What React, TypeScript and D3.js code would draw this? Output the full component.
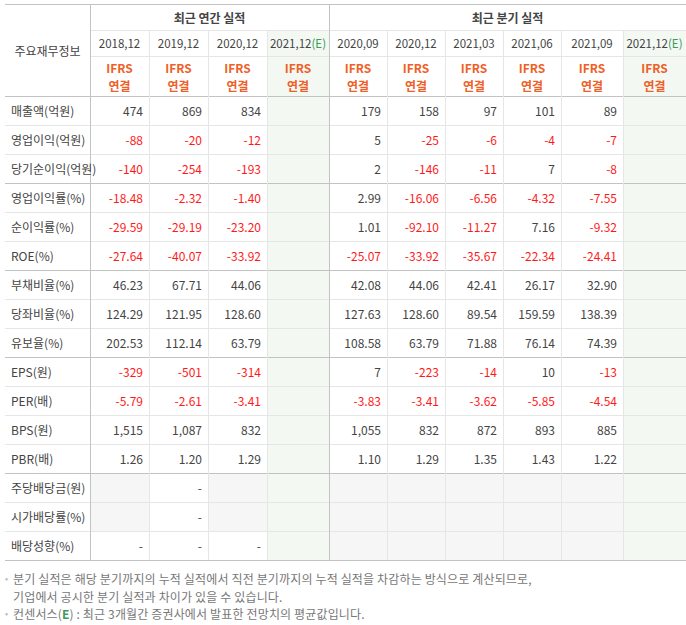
import * as d3 from "d3";

const ANNUAL_PERIODS = ["2018.12", "2019.12", "2020.12", "2021.12"];
const QUARTER_PERIODS = ["2020.09", "2020.12", "2021.03", "2021.06", "2021.09", "2021.12"];
const ROW_LABELS = [
  "매출액(억원)", "영업이익(억원)", "당기순이익(억원)",
  "영업이익률(%)", "순이익률(%)", "ROE(%)",
  "부채비율(%)", "당좌비율(%)", "유보율(%)",
  "EPS(원)", "PER(배)", "BPS(원)", "PBR(배)",
  "주당배당금(원)", "시가배당률(%)", "배당성향(%)",
];
// null = empty (gray for dividend rows)
const ANNUAL_VALUES: (string | null)[][] = [
  ["474", "869", "834"],
  ["-88", "-20", "-12"],
  ["-140", "-254", "-193"],
  ["-18.48", "-2.32", "-1.40"],
  ["-29.59", "-29.19", "-23.20"],
  ["-27.64", "-40.07", "-33.92"],
  ["46.23", "67.71", "44.06"],
  ["124.29", "121.95", "128.60"],
  ["202.53", "112.14", "63.79"],
  ["-329", "-501", "-314"],
  ["-5.79", "-2.61", "-3.41"],
  ["1,515", "1,087", "832"],
  ["1.26", "1.20", "1.29"],
  [null, "-", null],
  [null, "-", null],
  ["-", "-", "-"],
];
const QUARTER_VALUES: (string | null)[][] = [
  ["179", "158", "97", "101", "89"],
  ["5", "-25", "-6", "-4", "-7"],
  ["2", "-146", "-11", "7", "-8"],
  ["2.99", "-16.06", "-6.56", "-4.32", "-7.55"],
  ["1.01", "-92.10", "-11.27", "7.16", "-9.32"],
  ["-25.07", "-33.92", "-35.67", "-22.34", "-24.41"],
  ["42.08", "44.06", "42.41", "26.17", "32.90"],
  ["127.63", "128.60", "89.54", "159.59", "138.39"],
  ["108.58", "63.79", "71.88", "76.14", "74.39"],
  ["7", "-223", "-14", "10", "-13"],
  ["-3.83", "-3.41", "-3.62", "-5.85", "-4.54"],
  ["1,055", "832", "872", "893", "885"],
  ["1.10", "1.29", "1.35", "1.43", "1.22"],
  [null, null, null, null, null],
  [null, null, null, null, null],
  [null, null, null, null, null],
];
const GROUP_BREAKS = [3, 6, 9, 13];
const NOTES = [
  "분기 실적은 해당 분기까지의 누적 실적에서 직전 분기까지의 누적 실적을 차감하는 방식으로 계산되므로,",
  "기업에서 공시한 분기 실적과 차이가 있을 수 있습니다.",
];

const FONT = "'Noto Sans CJK KR', 'Noto Sans', sans-serif";
const LEFT = 5;
const TOP = 4;
const LABEL_W = 85;
const COL_W = [59, 59, 59, 62, 58, 58, 58, 58, 62, 63];
const H1 = 26, H2 = 26, H3 = 40, ROW_H = 29;
const GRID = "#e6e6e6";
const DARK = "#c3c3c3";
const TEXT = "#444";
const RED = "#ff1a1a";
const ORANGE = "#ef5f28";
const GREEN_BG = "#f3f8f3";
const GRAY_BG = "#f6f6f6";

export default function App() {
  const edges = [LEFT + LABEL_W, ...d3.cumsum(COL_W).map((c) => LEFT + LABEL_W + c)];
  const colX = (i: number) => edges[i];
  const colMid = (i: number) => (edges[i] + edges[i + 1]) / 2;
  const right = edges[edges.length - 1];
  const bodyTop = TOP + H1 + H2 + H3;
  const rowY = d3
    .scaleLinear()
    .domain([0, ROW_LABELS.length])
    .range([bodyTop, bodyTop + ROW_LABELS.length * ROW_H]);
  const bodyBottom = rowY(ROW_LABELS.length);
  const periods = [...ANNUAL_PERIODS, ...QUARTER_PERIODS];
  const eCols = [3, 9];

  const cells = ROW_LABELS.map((_, r) => {
    const a = [...ANNUAL_VALUES[r], ""];
    const q = [...QUARTER_VALUES[r], ""];
    return [...a, ...q];
  });

  return (
    <svg width={686} height={625} style={{ position: "absolute", left: 0, top: 0, fontFamily: FONT }}>
      <rect width={686} height={625} fill="#fff" />
      {/* cell backgrounds */}
      {cells.map((row, r) =>
        row.map((v, c) => {
          let fill: string | null = null;
          if (eCols.includes(c)) fill = GREEN_BG;
          else if (v === null) fill = GRAY_BG;
          if (!fill) return null;
          return (
            <rect key={`bg${r}-${c}`} x={colX(c)} y={rowY(r)} width={COL_W[c]} height={ROW_H} fill={fill} />
          );
        })
      )}
      {eCols.map((c) => (
        <rect key={`eh${c}`} x={colX(c)} y={TOP + H1} width={COL_W[c]} height={H2 + H3} fill={GREEN_BG} />
      ))}

      {/* horizontal lines */}
      <line x1={LEFT} x2={right} y1={TOP + 0.5} y2={TOP + 0.5} stroke={DARK} />
      <line x1={LEFT + LABEL_W} x2={right} y1={TOP + H1 + 0.5} y2={TOP + H1 + 0.5} stroke={GRID} />
      <line x1={LEFT + LABEL_W} x2={right} y1={TOP + H1 + H2 + 0.5} y2={TOP + H1 + H2 + 0.5} stroke={GRID} />
      <line x1={LEFT} x2={right} y1={bodyTop + 0.5} y2={bodyTop + 0.5} stroke={DARK} />
      {d3.range(1, ROW_LABELS.length + 1).map((i) => (
        <line
          key={`h${i}`}
          x1={LEFT}
          x2={right}
          y1={rowY(i) + 0.5}
          y2={rowY(i) + 0.5}
          stroke={GROUP_BREAKS.includes(i) || i === ROW_LABELS.length ? DARK : GRID}
        />
      ))}

      {/* vertical lines */}
      {edges.slice(0, -1).map((x, i) => {
        const major = i === 0 || i === 4;
        return (
          <line
            key={`v${i}`}
            x1={x + 0.5}
            x2={x + 0.5}
            y1={major ? TOP : TOP + H1}
            y2={bodyBottom}
            stroke={major ? DARK : GRID}
          />
        );
      })}

      {/* header texts */}
      <text x={LEFT + LABEL_W / 2} y={(TOP + bodyTop) / 2} textAnchor="middle" dominantBaseline="central" fontSize={12} fill={TEXT}>
        주요재무정보
      </text>
      <text x={(colX(0) + colX(4)) / 2} y={TOP + H1 / 2} textAnchor="middle" dominantBaseline="central" fontSize={12} fontWeight="bold" fill={TEXT}>
        최근 연간 실적
      </text>
      <text x={(colX(4) + right) / 2} y={TOP + H1 / 2} textAnchor="middle" dominantBaseline="central" fontSize={12} fontWeight="bold" fill={TEXT}>
        최근 분기 실적
      </text>
      {periods.map((p, c) => (
        <text key={`p${c}`} x={colMid(c)} y={TOP + H1 + H2 / 2} textAnchor="middle" dominantBaseline="central" fontSize={11.5} fill={TEXT}>
          {p.replace(".", ",")}
          {eCols.includes(c) && <tspan fill="#3c9b5a">(E)</tspan>}
        </text>
      ))}
      {periods.map((_, c) => (
        <g key={`f${c}`} fill={ORANGE} fontSize={12} fontWeight="bold" textAnchor="middle">
          <text x={colMid(c)} y={TOP + H1 + H2 + 11} dominantBaseline="central">IFRS</text>
          <text x={colMid(c)} y={TOP + H1 + H2 + 29} dominantBaseline="central">연결</text>
        </g>
      ))}

      {/* row labels */}
      {ROW_LABELS.map((l, r) => (
        <text key={`l${r}`} x={LEFT + 6} y={rowY(r) + ROW_H / 2} dominantBaseline="central" fontSize={12} fill={TEXT}>
          {l}
        </text>
      ))}

      {/* values */}
      {cells.map((row, r) =>
        row.map((v, c) =>
          v ? (
            <text
              key={`t${r}-${c}`}
              x={colX(c + 1) - 6}
              y={rowY(r) + ROW_H / 2}
              textAnchor="end"
              dominantBaseline="central"
              fontSize={12}
              fill={/^-\d/.test(v) ? RED : TEXT}
            >
              {v}
            </text>
          ) : null
        )
      )}

      {/* notes */}
      <g fontSize={12} fill="#777" letterSpacing={0.15}>
        <text x={LEFT} y={578} dominantBaseline="central" fill="#bbb" fontSize={9}>•</text>
        <text x={LEFT + 8} y={578} dominantBaseline="central">{NOTES[0]}</text>
        <text x={LEFT + 8} y={596} dominantBaseline="central">{NOTES[1]}</text>
        <text x={LEFT} y={613} dominantBaseline="central" fill="#bbb" fontSize={9}>•</text>
        <text x={LEFT + 8} y={613} dominantBaseline="central">
          컨센서스(<tspan fill="#3c9b5a" fontWeight="bold">E</tspan>) : 최근 3개월간 증권사에서 발표한 전망치의 평균값입니다.
        </text>
      </g>
    </svg>
  );
}
